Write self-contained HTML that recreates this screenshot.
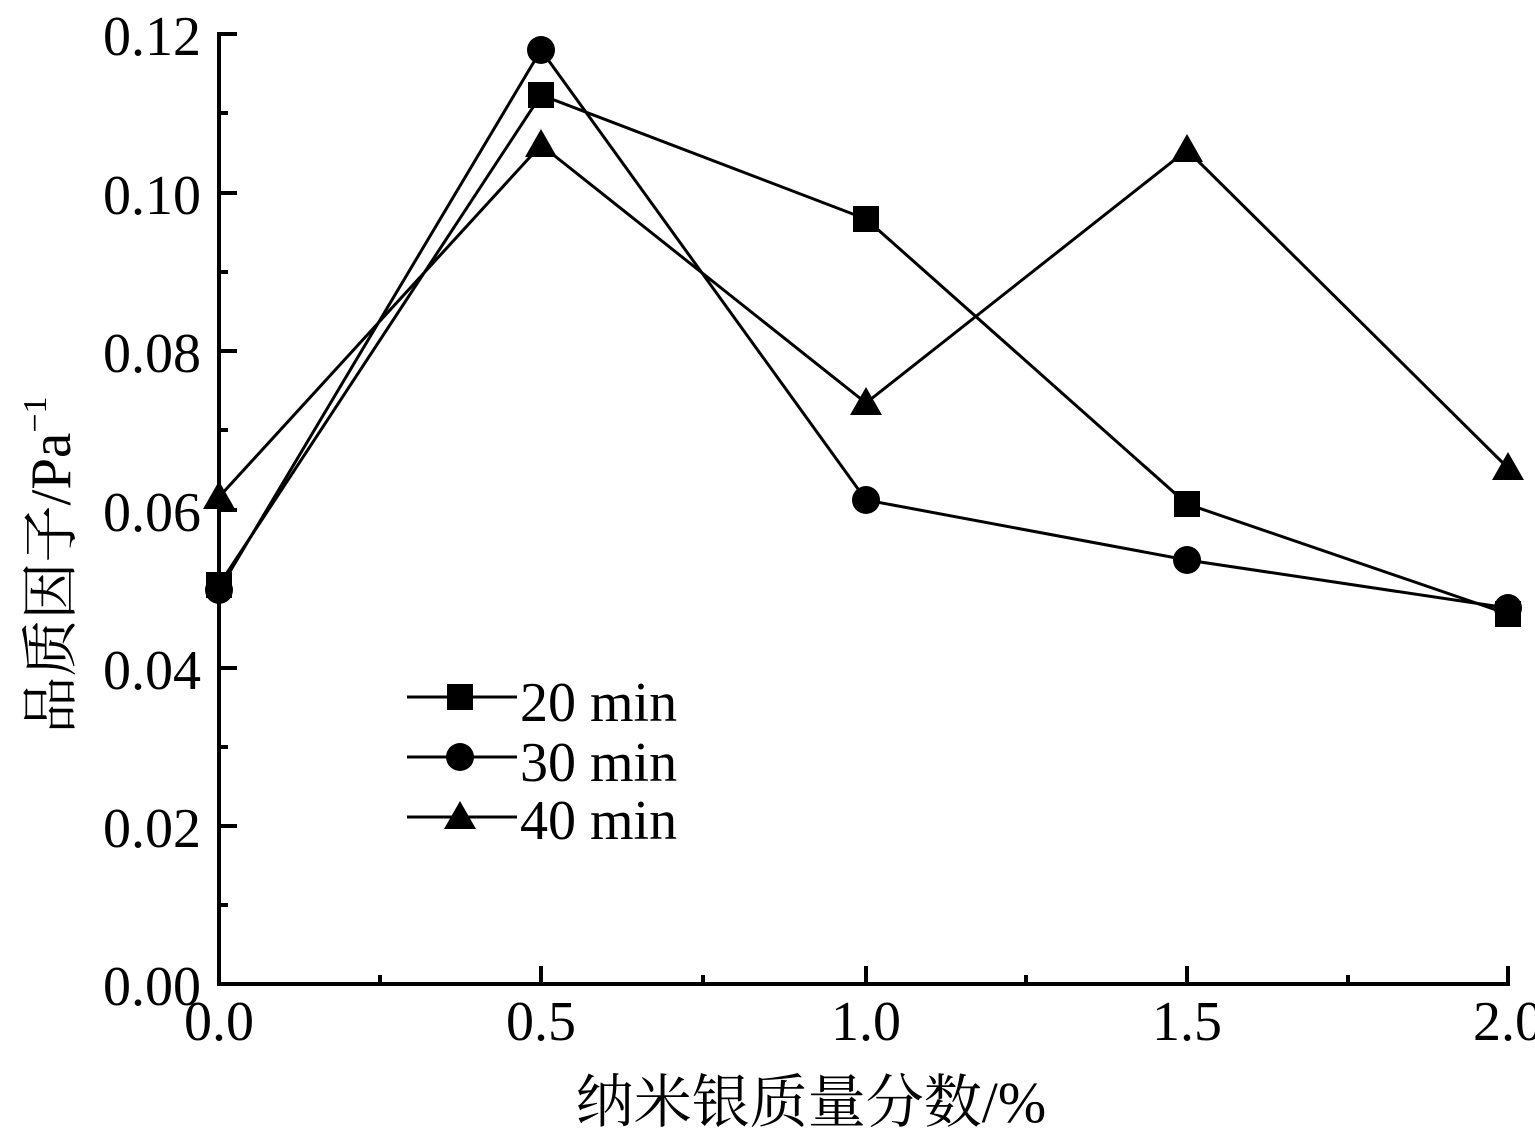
<!DOCTYPE html>
<html><head><meta charset="utf-8"><style>
html,body{margin:0;padding:0;background:#fff;}
svg{display:block;}
text{font-family:"Liberation Serif","Noto Serif CJK SC",serif;fill:#000;}
</style></head><body>
<svg width="1535" height="1148" viewBox="0 0 1535 1148" xmlns="http://www.w3.org/2000/svg">
<g stroke="#000" stroke-width="4" fill="none">
<path d="M219,32 V986 M217,984 H1510"/>
<path d="M219,34 H237 M219,193 H237 M219,351 H237 M219,510 H237 M219,668 H237 M219,826 H237"/>
<path d="M219,113 H228 M219,272 H228 M219,430 H228 M219,589 H228 M219,747 H228 M219,905 H228"/>
<path d="M541,984 V966 M866,984 V966 M1187,984 V966 M1508,984 V966"/>
<path d="M380,984 V975 M703,984 V975 M1026,984 V975 M1348,984 V975"/>
</g>
<g font-size="56" text-anchor="end">
<text x="201" y="55">0.12</text>
<text x="201" y="214">0.10</text>
<text x="201" y="372">0.08</text>
<text x="201" y="531">0.06</text>
<text x="201" y="689">0.04</text>
<text x="201" y="847">0.02</text>
<text x="201" y="1005">0.00</text>
</g>
<g font-size="56" text-anchor="middle">
<text x="219" y="1040">0.0</text>
<text x="541" y="1040">0.5</text>
<text x="866" y="1040">1.0</text>
<text x="1187" y="1040">1.5</text>
<text x="1508" y="1040">2.0</text>
</g>
<text x="811" y="1122" font-size="58" text-anchor="middle">纳米银质量分数/%</text>
<text transform="translate(70,565) rotate(-90)" font-size="57" text-anchor="middle">品质因子/Pa<tspan font-size="34" dy="-24">−1</tspan></text>
<g stroke="#000" stroke-width="3" fill="none">
<polyline points="219,585 541,95 866,219 1187,504 1508,614"/>
<polyline points="219,590 541,50 866,500 1187,560 1508,608"/>
<polyline points="219,497 541,145 866,403 1187,150 1508,468"/>
<path d="M407,697 H517 M407,757 H517 M407,817 H517"/>
</g>
<g fill="#000">
<rect x="206" y="572" width="26" height="26"/><rect x="528" y="82" width="26" height="26"/><rect x="853" y="206" width="26" height="26"/><rect x="1174" y="491" width="26" height="26"/><rect x="1495" y="601" width="26" height="26"/>
<circle cx="219" cy="590" r="14"/><circle cx="541" cy="50" r="14"/><circle cx="866" cy="500" r="14"/><circle cx="1187" cy="560" r="14"/><circle cx="1508" cy="608" r="14"/>
<path d="M219,481 l16,28 h-32z M541,129 l16,28 h-32z M866,387 l16,28 h-32z M1187,134 l16,28 h-32z M1508,452 l16,28 h-32z"/>
<rect x="447" y="684" width="26" height="26"/>
<circle cx="460" cy="757" r="14"/>
<path d="M460,801 l16,28 h-32z"/>
</g>
<g font-size="56">
<text x="520" y="721">20 min</text>
<text x="520" y="781">30 min</text>
<text x="520" y="839">40 min</text>
</g>
</svg>
</body></html>
